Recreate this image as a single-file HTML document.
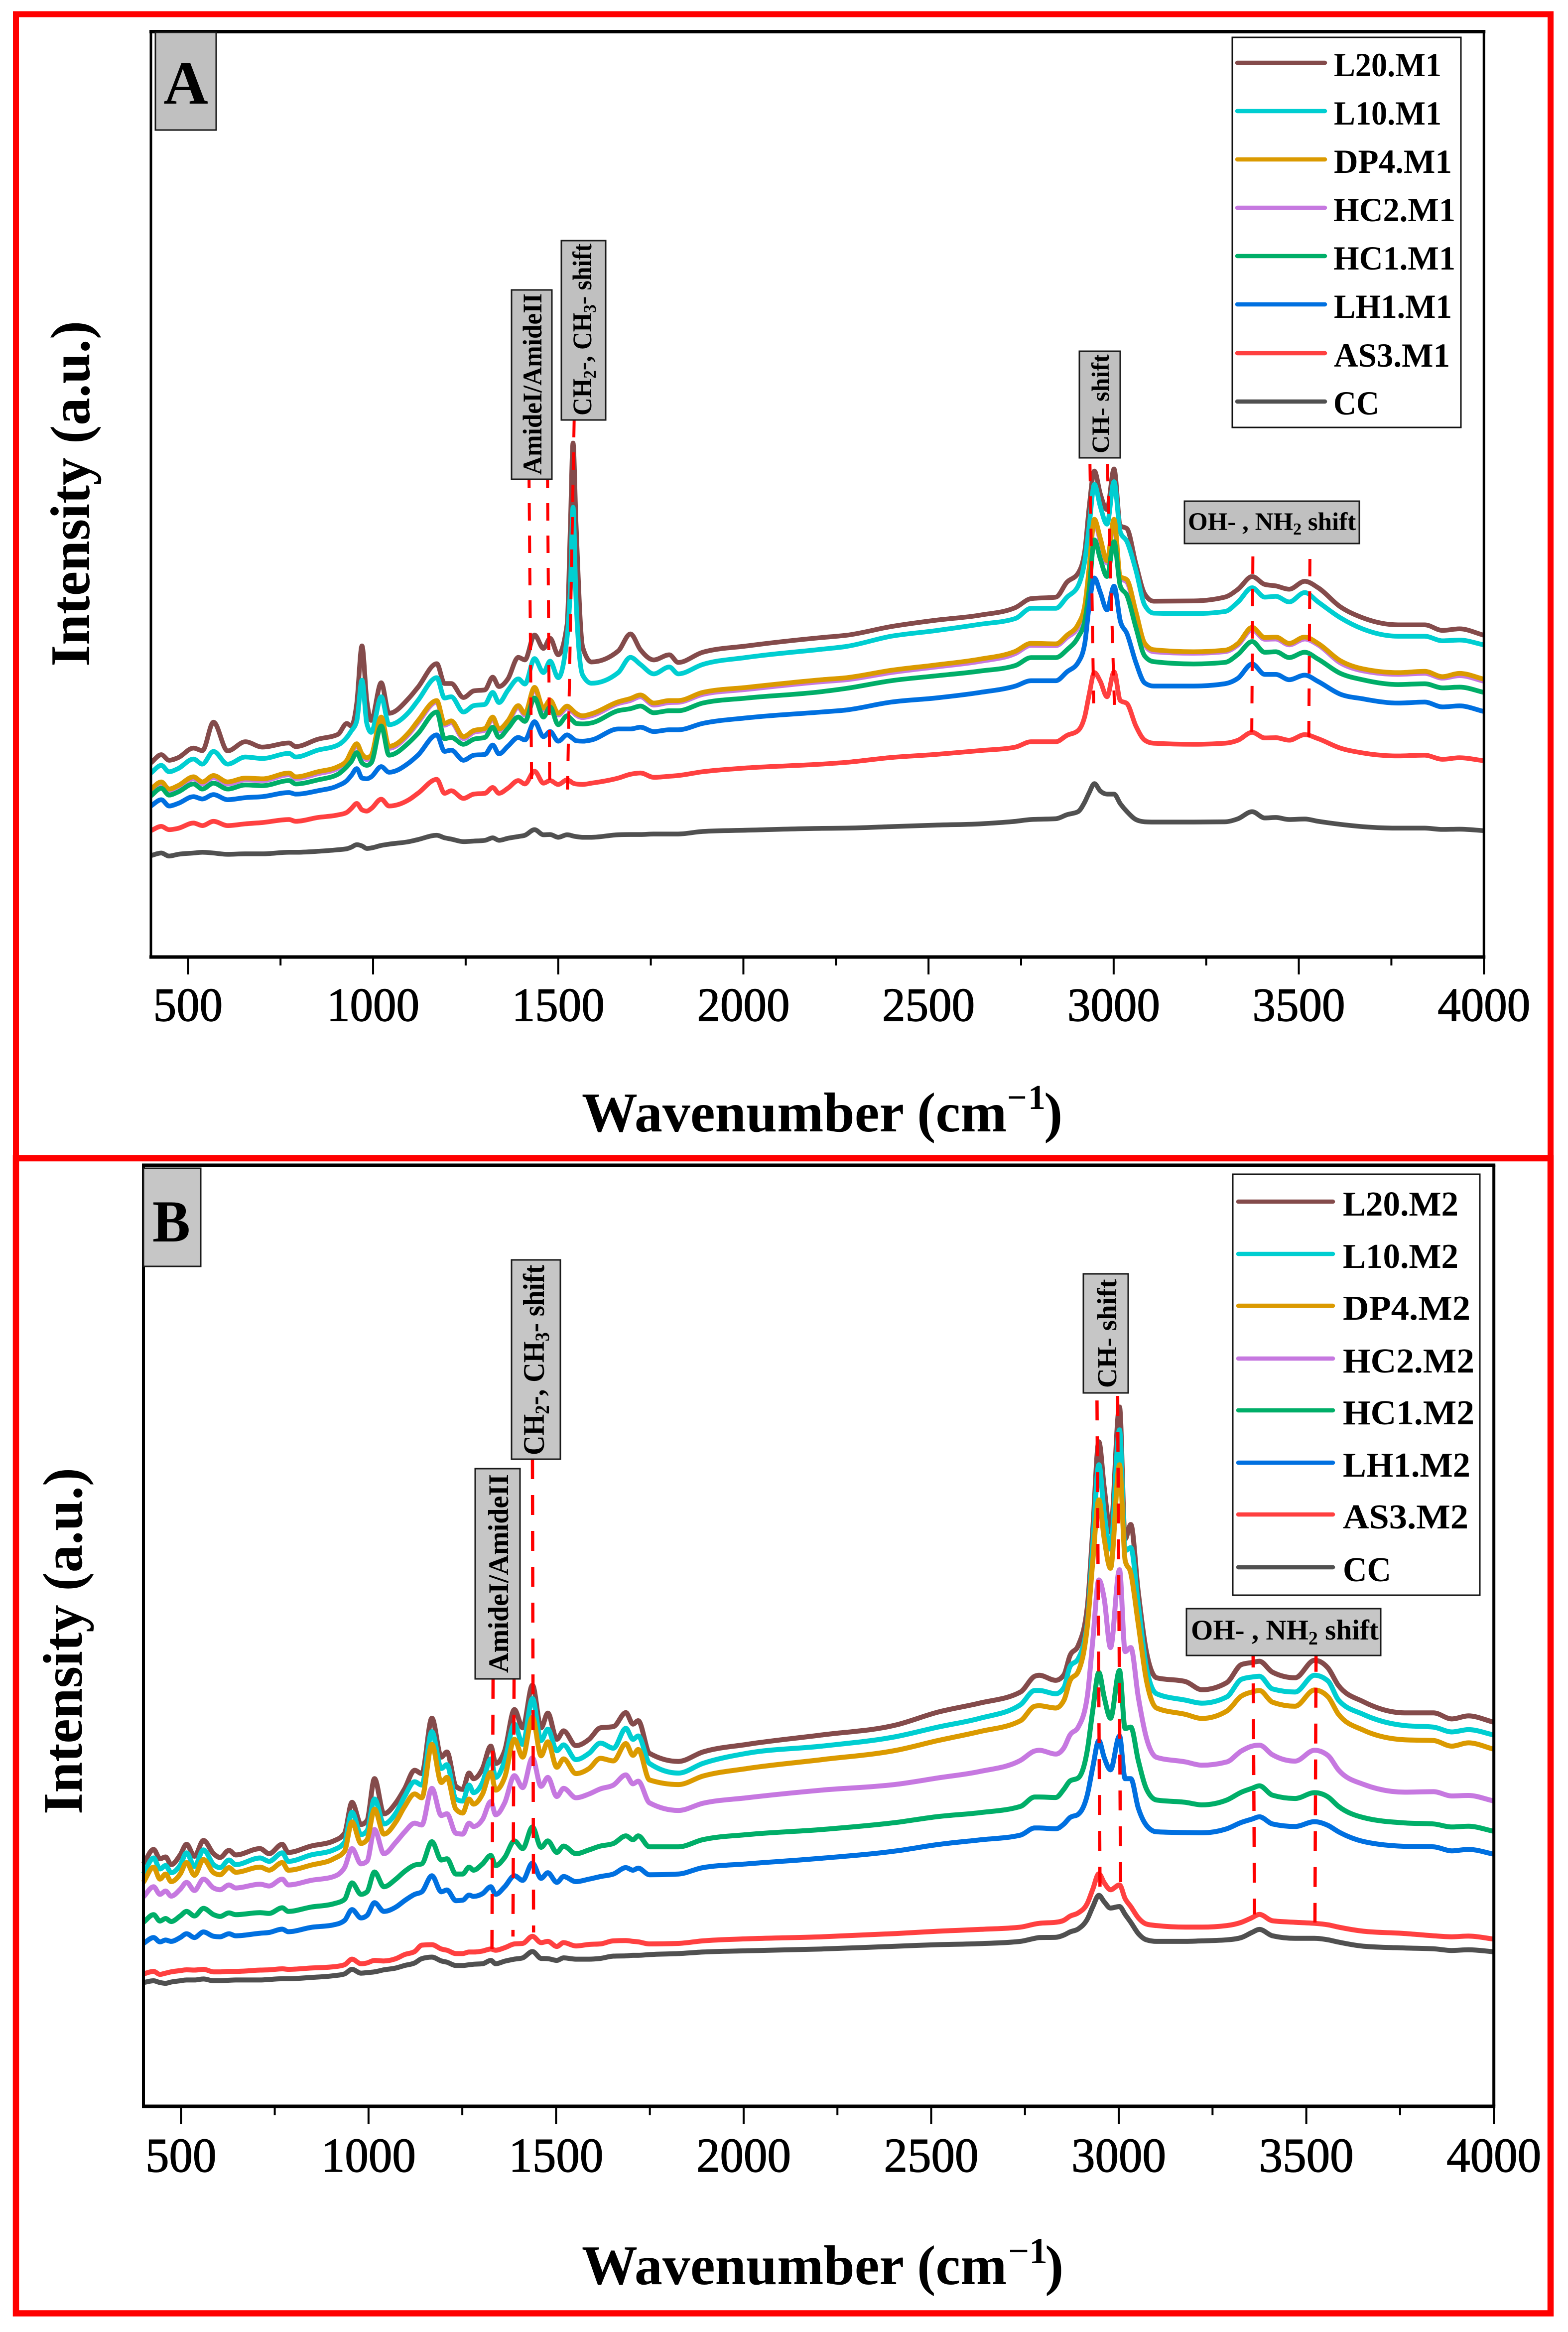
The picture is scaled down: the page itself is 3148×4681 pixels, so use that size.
<!DOCTYPE html>
<html lang="en">
<head>
<meta charset="utf-8">
<title>Raman spectra panels A and B</title>
<style>
html,body{margin:0;padding:0;background:#fff;}
svg{display:block;}
text{font-family:"Liberation Serif",serif;fill:#000;}
.b{font-weight:bold;}
.tick{font-weight:normal;stroke:#000;stroke-width:1.4px;}
.badge{fill:#c0c0c0;stroke:#1a1a1a;stroke-width:3;}
.legend-box{fill:#fff;stroke:#111;stroke-width:3;}
.ll{stroke-width:8.5;stroke-linecap:round;fill:none;}
</style>
</head>
<body>
<svg xmlns="http://www.w3.org/2000/svg" width="3148" height="4681" viewBox="0 0 3148 4681">
  <rect x="0" y="0" width="3148" height="4681" fill="#fff"/>
  <rect x="32" y="28.5" width="3081" height="2296" fill="none" stroke="#ff0000" stroke-width="12"/>
  <rect x="32" y="2325" width="3081" height="2318.5" fill="none" stroke="#ff0000" stroke-width="12.5"/>

  <g id="panelA"></g>
  <g id="panelB"></g>

  <!-- Panel A annotations -->
  <g>
    <rect class="badge" x="312" y="65" width="122" height="196"/>
    <text class="b" x="373" y="208" font-size="124" text-anchor="middle">A</text>

    <rect class="badge" x="1027" y="582" width="81" height="380"/>
    <text class="b" transform="translate(1087,953) rotate(-90)" font-size="54" textLength="364" lengthAdjust="spacingAndGlyphs">AmideI/AmideII</text>

    <rect class="badge" x="1127" y="483" width="89" height="360"/>
    <text class="b" transform="translate(1187,834) rotate(-90) scale(0.917,1)" font-size="54">CH<tspan font-size="36" dy="9">2</tspan><tspan dy="-9">-, CH</tspan><tspan font-size="36" dy="9">3</tspan><tspan dy="-9">- shift</tspan></text>

    <rect class="badge" x="2167" y="705" width="82" height="214"/>
    <text class="b" transform="translate(2226,910) rotate(-90)" font-size="50">CH- shift</text>

    <rect class="badge" x="2378" y="1006" width="351" height="85"/>
    <text class="b" x="2385" y="1064" font-size="51">OH- , NH<tspan font-size="34" dy="9">2</tspan><tspan dy="-9"> shift</tspan></text>

    <text class="b" transform="translate(179,1338) rotate(-90)" font-size="112" textLength="694" lengthAdjust="spacingAndGlyphs">Intensity (a.u.)</text>
    <text class="b" x="1168" y="2271" font-size="112">Wavenumber (cm<tspan x="2022" y="2226" font-size="70">−</tspan><tspan x="2064" y="2226" font-size="70">1</tspan><tspan x="2096" y="2271">)</tspan></text>

    <g>
      <rect class="legend-box" x="2474" y="75" width="459" height="783"/>
      <line class="ll" x1="2484" x2="2660" y1="126" y2="126" stroke="#844b4b"/>
      <text class="b" x="2678" y="153" font-size="68" textLength="216" lengthAdjust="spacingAndGlyphs">L20.M1</text>
      <line class="ll" x1="2484" x2="2660" y1="223" y2="223" stroke="#00ced1"/>
      <text class="b" x="2678" y="250" font-size="68" textLength="216" lengthAdjust="spacingAndGlyphs">L10.M1</text>
      <line class="ll" x1="2484" x2="2660" y1="320" y2="320" stroke="#db9a00"/>
      <text class="b" x="2678" y="347" font-size="68" textLength="237" lengthAdjust="spacingAndGlyphs">DP4.M1</text>
      <line class="ll" x1="2484" x2="2660" y1="417" y2="417" stroke="#c678e0"/>
      <text class="b" x="2677" y="444" font-size="68" textLength="245" lengthAdjust="spacingAndGlyphs">HC2.M1</text>
      <line class="ll" x1="2484" x2="2660" y1="514" y2="514" stroke="#00ae68"/>
      <text class="b" x="2677" y="541" font-size="68" textLength="245" lengthAdjust="spacingAndGlyphs">HC1.M1</text>
      <line class="ll" x1="2484" x2="2660" y1="611" y2="611" stroke="#0070e0"/>
      <text class="b" x="2678" y="638" font-size="68" textLength="237" lengthAdjust="spacingAndGlyphs">LH1.M1</text>
      <line class="ll" x1="2484" x2="2660" y1="709" y2="709" stroke="#ff4040"/>
      <text class="b" x="2678" y="736" font-size="68" textLength="233" lengthAdjust="spacingAndGlyphs">AS3.M1</text>
      <line class="ll" x1="2484" x2="2660" y1="806" y2="806" stroke="#505050"/>
      <text class="b" x="2677" y="832" font-size="68" textLength="92" lengthAdjust="spacingAndGlyphs">CC</text>
    </g>
  </g>

  <!-- Panel B annotations -->
  <g>
    <rect class="badge" style="fill:#c6c6c6" x="288" y="2345" width="115" height="197"/>
    <text class="b" x="344" y="2492" font-size="120" text-anchor="middle" textLength="76" lengthAdjust="spacingAndGlyphs">B</text>

    <rect class="badge" style="fill:#c6c6c6" x="954" y="2948" width="90" height="422"/>
    <text class="b" transform="translate(1020,3358) rotate(-90)" font-size="57" textLength="399" lengthAdjust="spacingAndGlyphs">AmideI/AmideII</text>

    <rect class="badge" style="fill:#c6c6c6" x="1027" y="2529" width="98" height="400"/>
    <text class="b" transform="translate(1092,2921) rotate(-90) scale(0.914,1)" font-size="60">CH<tspan font-size="40" dy="10">2</tspan><tspan dy="-10">-, CH</tspan><tspan font-size="40" dy="10">3</tspan><tspan dy="-10">- shift</tspan></text>

    <rect class="badge" style="fill:#c6c6c6" x="2175" y="2557" width="90" height="239"/>
    <text class="b" transform="translate(2241,2786) rotate(-90)" font-size="55">CH- shift</text>

    <rect class="badge" style="fill:#c6c6c6" x="2382" y="3229" width="390" height="94"/>
    <text class="b" x="2391" y="3291" font-size="57">OH- , NH<tspan font-size="38" dy="10">2</tspan><tspan dy="-10"> shift</tspan></text>

    <text class="b" transform="translate(164,3642) rotate(-90)" font-size="112" textLength="696" lengthAdjust="spacingAndGlyphs">Intensity (a.u.)</text>
    <text class="b" x="1168" y="4585" font-size="112">Wavenumber (cm<tspan x="2024" y="4543" font-size="74">−</tspan><tspan x="2066" y="4543" font-size="74">1</tspan><tspan x="2098" y="4585">)</tspan></text>

    <g>
      <rect class="legend-box" x="2475" y="2357" width="496" height="845"/>
      <line class="ll" x1="2486" x2="2676" y1="2412" y2="2412" stroke="#844b4b"/>
      <text class="b" x="2696" y="2440" font-size="70" textLength="232" lengthAdjust="spacingAndGlyphs">L20.M2</text>
      <line class="ll" x1="2486" x2="2676" y1="2517" y2="2517" stroke="#00ced1"/>
      <text class="b" x="2696" y="2545" font-size="70" textLength="232" lengthAdjust="spacingAndGlyphs">L10.M2</text>
      <line class="ll" x1="2486" x2="2676" y1="2621" y2="2621" stroke="#db9a00"/>
      <text class="b" x="2696" y="2649" font-size="70" textLength="256" lengthAdjust="spacingAndGlyphs">DP4.M2</text>
      <line class="ll" x1="2486" x2="2676" y1="2727" y2="2727" stroke="#c678e0"/>
      <text class="b" x="2696" y="2755" font-size="70" textLength="264" lengthAdjust="spacingAndGlyphs">HC2.M2</text>
      <line class="ll" x1="2486" x2="2676" y1="2831" y2="2831" stroke="#00ae68"/>
      <text class="b" x="2696" y="2859" font-size="70" textLength="264" lengthAdjust="spacingAndGlyphs">HC1.M2</text>
      <line class="ll" x1="2486" x2="2676" y1="2936" y2="2936" stroke="#0070e0"/>
      <text class="b" x="2696" y="2964" font-size="70" textLength="256" lengthAdjust="spacingAndGlyphs">LH1.M2</text>
      <line class="ll" x1="2486" x2="2676" y1="3040" y2="3040" stroke="#ff4040"/>
      <text class="b" x="2696" y="3068" font-size="70" textLength="252" lengthAdjust="spacingAndGlyphs">AS3.M2</text>
      <line class="ll" x1="2486" x2="2676" y1="3146" y2="3146" stroke="#505050"/>
      <text class="b" x="2696" y="3174" font-size="70" textLength="97" lengthAdjust="spacingAndGlyphs">CC</text>
    </g>
  </g>
</svg>

<script>
// ---------- Shared tick values ----------
const majorTicks = [500, 1000, 1500, 2000, 2500, 3000, 3500, 4000];
const minorTicks = [750, 1250, 1750, 2250, 2750, 3250, 3750];

// ---------- Panel A data (wavenumber, intensity in a.u.) ----------
const wavenumbersA = [400,428,449,473,515,539,569,607,655,701,773,791,851,905,929,941,956,970,983,995,1022,1043,1097,1121,1172,1193,1211,1244,1272,1302,1323,1340,1364,1392,1410,1436,1460,1478,1500,1524,1533,1540,1548,1566,1590,1662,1695,1722,1758,1800,1824,1890,2010,2212,
2279,2399,2519,2639,2735,2777,2844,2874,2904,2922,2934,2948,2964,2982,3001,3018,3036,3060,3084,3108,3216,3300,3336,3374,3408,3438,3474,3516,3552,3612,3672,3768,3840,3888,3934,4000];
const l20M1 = [764,796,774,784,822,812,924,811,847,826,842,828,857,876,919,909,999,1224,1009,931,1079,959,1019,1061,1154,1076,1076,1021,1047,1051,1101,1064,1094,1179,1169,1267,1214,1254,1189,1309,1709,2022,1709,1219,1161,1204,1271,1209,1169,1189,1159,1199,1224,1257,
1266,1300,1325,1345,1375,1410,1416,1475,1510,1597,1772,1912,1822,1760,1920,1697,1685,1547,1428,1400,1401,1416,1447,1497,1466,1460,1447,1478,1453,1378,1335,1307,1307,1285,1291,1266];
const l10M1 = [724,754,729,741,779,759,809,759,787,781,801,787,814,834,864,889,929,1089,919,884,1024,914,964,1009,1099,1019,1024,964,989,994,1041,1001,1049,1094,1074,1174,1119,1164,1099,1259,1459,1769,1409,1109,1077,1119,1179,1151,1114,1141,1114,1151,1179,1211,
1222,1262,1284,1309,1332,1372,1372,1416,1460,1559,1697,1859,1772,1703,1870,1672,1634,1522,1384,1353,1351,1359,1397,1453,1416,1419,1397,1434,1397,1335,1291,1262,1262,1244,1247,1228];
const dp4M1 = [661,689,661,674,709,689,714,689,704,701,724,709,729,749,774,809,839,799,784,794,944,829,884,929,1009,919,929,867,891,899,944,897,929,989,959,1061,979,1011,959,987,979,969,959,949,957,1004,1017,1031,999,1009,1009,1041,1061,1091,
1099,1128,1149,1172,1203,1234,1232,1266,1309,1384,1534,1722,1647,1559,1722,1497,1484,1359,1234,1209,1201,1207,1234,1297,1257,1259,1234,1259,1234,1166,1134,1119,1124,1103,1116,1093];
const hc2M1 = [654,681,654,667,701,681,706,681,697,694,717,702,721,742,767,801,831,791,777,787,937,821,877,921,1003,912,922,859,884,892,937,889,921,982,952,1054,972,1004,952,979,972,962,952,942,949,997,1009,1024,991,1001,1002,1033,1053,1083,
1091,1119,1141,1163,1194,1226,1225,1257,1297,1372,1528,1716,1634,1550,1712,1491,1474,1349,1228,1201,1195,1201,1228,1288,1250,1251,1228,1251,1228,1157,1126,1112,1116,1097,1107,1085];
const hc1M1 = [634,664,637,649,681,661,684,661,677,674,694,681,697,719,749,769,804,764,754,764,909,794,844,879,964,859,864,837,857,864,904,864,899,944,927,1019,944,984,914,949,939,929,919,917,921,969,977,987,961,969,969,999,1019,1044,
1057,1087,1106,1125,1147,1178,1178,1209,1259,1322,1447,1641,1566,1497,1634,1459,1422,1297,1184,1162,1153,1159,1191,1241,1199,1201,1178,1199,1172,1116,1091,1072,1075,1059,1062,1041];
const lh1M1 = [594,619,594,604,631,622,639,619,627,631,647,641,654,674,694,714,741,704,701,709,749,727,764,794,874,809,814,774,794,797,834,799,829,864,854,926,867,887,849,874,867,859,851,849,854,897,897,904,887,894,894,919,941,964,
972,1003,1019,1041,1066,1087,1087,1122,1159,1234,1384,1491,1434,1366,1459,1322,1272,1159,1078,1066,1066,1075,1097,1153,1112,1112,1091,1109,1084,1034,1016,999,1003,984,988,966];
const as3M1 = [497,514,501,506,527,517,534,517,524,529,541,534,549,559,569,584,604,579,574,584,621,594,619,644,699,644,654,624,641,644,667,644,664,694,681,731,684,694,679,697,691,684,681,679,684,704,719,724,707,711,714,729,744,759,
766,785,797,812,826,847,847,872,891,947,1034,1119,1084,1024,1122,1009,997,909,853,841,837,841,853,884,862,863,853,875,859,822,803,791,794,778,784,772];
const ccA = [399,409,397,404,409,412,409,404,406,406,412,412,416,422,426,432,442,437,427,429,439,444,454,462,479,469,464,454,456,459,469,459,467,474,479,501,481,482,471,481,479,476,474,471,471,481,482,482,484,484,484,494,499,506,
507,513,519,524,534,541,544,560,572,610,647,682,653,641,641,603,572,541,532,531,531,532,544,572,547,549,541,543,534,522,513,507,507,502,503,497];

// ---------- Panel B data ----------
const wavenumbersB = [400,427,444,459,474,498,515,536,560,587,604,628,646,711,735,770,786,847,907,936,956,980,996,1016,1041,1073,1096,1123,1142,1169,1194,1209,1233,1251,1268,1280,1304,1326,1339,1363,1389,1411,1437,1460,1478,1502,1520,1553,1588,1618,1653,1686,1705,1719,1749,1826,1891,2009,2208,
2408,2518,2628,2738,2776,2788,2832,2854,2870,2892,2916,2931,2947,2961,2978,3002,3017,3032,3052,3074,3101,3178,3222,3288,3327,3355,3375,3410,3470,3522,3558,3586,3652,3762,3839,3888,3932,4000];
const l20M2 = [954,1011,974,981,951,989,1031,984,1046,994,979,1007,989,1014,994,1031,999,1024,1044,1074,1196,1109,1124,1289,1151,1194,1249,1322,1309,1527,1374,1394,1259,1247,1311,1289,1329,1417,1349,1399,1561,1489,1657,1489,1547,1444,1477,1419,1444,1489,1494,1549,1504,1517,1389,1357,1394,1424,1461,
1501,1551,1586,1630,1692,1696,1676,1698,1773,1813,1961,2274,2614,2436,2260,2751,2232,2289,2023,1786,1686,1671,1639,1667,1738,1746,1751,1708,1686,1755,1724,1655,1592,1548,1548,1524,1536,1511];
const l10M2 = [914,977,934,947,919,949,997,944,1009,951,939,969,951,977,964,997,964,989,1009,1039,1157,1069,1084,1209,1111,1154,1219,1277,1264,1474,1329,1344,1209,1201,1264,1234,1274,1367,1294,1359,1504,1424,1604,1439,1484,1399,1422,1364,1389,1429,1409,1487,1444,1457,1349,1311,1349,1389,1417,
1455,1492,1526,1580,1636,1636,1623,1648,1730,1761,1898,2211,2524,2336,2192,2661,2186,2198,1974,1724,1623,1598,1586,1611,1680,1689,1692,1642,1630,1696,1673,1598,1542,1498,1492,1473,1482,1461];
const dp4M2 = [881,941,894,914,884,914,959,909,971,919,911,939,921,941,929,959,929,949,974,1004,1119,1034,1049,1169,1071,1119,1179,1229,1214,1424,1274,1294,1169,1154,1209,1189,1229,1314,1244,1294,1444,1374,1531,1379,1434,1334,1367,1309,1329,1369,1359,1427,1381,1404,1284,1266,1299,1329,1364,
1401,1439,1474,1517,1574,1576,1567,1598,1674,1711,1886,2148,2386,2236,2117,2524,2148,2098,1898,1674,1567,1542,1526,1555,1614,1630,1636,1590,1574,1638,1611,1542,1480,1442,1439,1417,1430,1405];
const hc2M2 = [824,864,834,847,827,854,881,849,894,859,852,871,859,874,867,894,871,889,904,939,1014,954,964,1089,994,1039,1079,1114,1107,1251,1144,1151,1074,1071,1114,1101,1129,1199,1147,1194,1301,1254,1371,1259,1294,1219,1251,1214,1229,1249,1264,1304,1269,1279,1194,1164,1192,1214,1244,
1267,1292,1317,1361,1398,1401,1386,1411,1461,1492,1611,1836,2071,1999,1805,2111,1789,1805,1611,1448,1373,1355,1342,1355,1398,1417,1421,1383,1358,1401,1380,1323,1267,1236,1238,1221,1223,1201];
const hc1M2 = [724,754,729,739,727,749,767,749,779,754,747,761,754,762,759,781,767,784,797,814,879,834,844,922,864,894,924,949,954,1041,969,974,914,914,941,929,954,987,947,979,1044,1014,1099,1019,1044,999,1024,994,1009,1024,1034,1064,1049,1064,1021,1021,1049,1069,1089,
1117,1140,1155,1180,1217,1217,1215,1248,1280,1292,1399,1561,1707,1611,1527,1715,1486,1492,1361,1248,1205,1196,1186,1205,1236,1251,1261,1224,1211,1234,1217,1180,1136,1115,1111,1099,1102,1082];
const lh1M2 = [641,664,647,654,649,664,679,664,686,669,667,679,671,681,684,697,687,704,714,731,774,741,751,801,767,784,809,834,844,907,844,851,809,811,831,826,837,864,834,864,907,889,957,897,919,881,904,884,894,904,914,939,929,937,911,914,939,954,976,
1005,1030,1048,1067,1095,1095,1092,1111,1136,1149,1224,1336,1439,1373,1324,1457,1289,1289,1174,1105,1080,1077,1076,1092,1117,1130,1139,1111,1101,1120,1105,1080,1042,1023,1021,1005,1011,992];
const as3M2 = [521,531,519,524,529,534,537,536,539,529,529,531,531,536,537,541,539,544,549,557,579,561,564,574,572,581,597,609,634,636,619,614,601,601,607,607,611,619,614,624,639,641,669,644,649,629,644,631,637,639,651,652,649,647,639,641,651,659,667,
680,689,696,705,717,720,724,732,748,761,798,855,915,880,852,871,817,786,742,717,711,705,705,711,724,742,755,730,724,720,714,705,689,680,671,667,670,658];
const ccB = [487,494,487,484,489,494,497,497,501,494,494,496,497,497,499,502,502,507,514,521,539,524,526,529,537,544,554,564,581,587,572,567,554,554,557,559,561,574,561,571,579,584,609,582,581,574,584,579,579,582,591,592,594,594,597,601,607,612,619,
630,636,640,649,661,664,665,674,686,698,736,786,830,805,780,786,755,724,680,655,649,649,651,655,664,684,696,671,661,661,655,646,630,623,620,613,616,608];

// ---------- Annotation guides (wavenumber at top/bottom, intensity at top/bottom) ----------
const guidesATopW = [1421,1471,1543,2936,2983,3376,3530];
const guidesABottomW = [1428,1477,1525,2946,3002,3373,3527];
const guidesATopI = [1913,1913,2113,1940,1940,1576,1566];
const guidesABottomI = [700,674,659,998,992,884,866];
const guidesBTopW = [1332,1388,1437,2942,2997,3358,3526];
const guidesBBottomW = [1329,1385,1440,2950,3005,3362,3523];
const guidesBTopI = [1682,1682,2546,2777,2795,1805,1788];
const guidesBBottomI = [619,668,684,860,880,755,723];

// ---------- Series order and colours ----------
const seriesKeys = ['l20','l10','hc2','dp4','hc1','lh1','as3','cc'];
const seriesColors = {l20:'#844b4b',l10:'#00ced1',dp4:'#db9a00',hc2:'#c678e0',hc1:'#00ae68',lh1:'#0070e0',as3:'#ff4040',cc:'#505050'};
const valuesA = {l20:l20M1,l10:l10M1,dp4:dp4M1,hc2:hc2M1,hc1:hc1M1,lh1:lh1M1,as3:as3M1,cc:ccA};
const valuesB = {l20:l20M2,l10:l10M2,dp4:dp4M2,hc2:hc2M2,hc1:hc1M2,lh1:lh1M2,as3:as3M2,cc:ccB};

const SVGNS = 'http://www.w3.org/2000/svg';

function monotonePath(px, py) {
  const n = px.length;
  const s = [], t = new Array(n);
  for (let i = 0; i < n - 1; i++) s.push((py[i + 1] - py[i]) / (px[i + 1] - px[i]));
  for (let i = 1; i < n - 1; i++) {
    const h0 = px[i] - px[i - 1], h1 = px[i + 1] - px[i];
    const p = (s[i - 1] * h1 + s[i] * h0) / (h0 + h1);
    t[i] = (Math.sign(s[i - 1]) + Math.sign(s[i])) * Math.min(Math.abs(s[i - 1]), Math.abs(s[i]), 0.5 * Math.abs(p));
  }
  t[0] = s[0];
  t[n - 1] = s[n - 2];
  let d = 'M' + px[0].toFixed(1) + ' ' + py[0].toFixed(1);
  for (let i = 0; i < n - 1; i++) {
    const h = (px[i + 1] - px[i]) / 3;
    d += 'C' + (px[i] + h).toFixed(1) + ' ' + (py[i] + h * t[i]).toFixed(1) + ' ' +
         (px[i + 1] - h).toFixed(1) + ' ' + (py[i + 1] - h * t[i + 1]).toFixed(1) + ' ' +
         px[i + 1].toFixed(1) + ' ' + py[i + 1].toFixed(1);
  }
  return d;
}

function drawPanel(cfg) {
  const root = document.getElementById(cfg.id);
  const xScale = w => cfg.x400 + (w - 400) * cfg.pxPerW;
  const yScale = v => cfg.yBase - v / 1.96;

  // series
  seriesKeys.forEach(key => {
    const vals = cfg.values[key];
    const px = cfg.wavenumbers.map(xScale);
    const py = vals.map(yScale);
    const path = document.createElementNS(SVGNS, 'path');
    path.setAttribute('d', monotonePath(px, py));
    path.setAttribute('fill', 'none');
    path.setAttribute('stroke', seriesColors[key]);
    path.setAttribute('stroke-width', cfg.lineWidth);
    path.setAttribute('stroke-linejoin', 'round');
    
    
    root.appendChild(path);
  });

  // dashed guide lines
  cfg.guideTopW.forEach((w, i) => {
    const ln = document.createElementNS(SVGNS, 'line');
    ln.setAttribute('x1', xScale(w));
    ln.setAttribute('y1', yScale(cfg.guideTopI[i]));
    ln.setAttribute('x2', xScale(cfg.guideBottomW[i]));
    ln.setAttribute('y2', yScale(cfg.guideBottomI[i]));
    ln.setAttribute('stroke', '#ff0000');
    ln.setAttribute('stroke-width', cfg.dashWidth);
    ln.setAttribute('stroke-dasharray', cfg.dash);
    
    
    root.appendChild(ln);
  });

  // frame: horizontal axes heavier than vertical ones
  const L = xScale(400), R = xScale(4000), T = cfg.yTop, B = cfg.yBase;
  const hSides = document.createElementNS(SVGNS, 'path');
  hSides.setAttribute('d', 'M' + (L - 3) + ' ' + T + 'H' + (R + 3) + 'M' + (L - 3) + ' ' + B + 'H' + (R + 3));
  hSides.setAttribute('fill', 'none');
  hSides.setAttribute('stroke', '#000');
  hSides.setAttribute('stroke-width', cfg.hFrameWidth);
  
  
  root.appendChild(hSides);

  const vSides = document.createElementNS(SVGNS, 'path');
  vSides.setAttribute('d', 'M' + L + ' ' + T + 'V' + B + 'M' + R + ' ' + T + 'V' + B);
  vSides.setAttribute('fill', 'none');
  vSides.setAttribute('stroke', '#000');
  vSides.setAttribute('stroke-width', cfg.vFrameWidth);
  
  
  root.appendChild(vSides);

  // ticks
  majorTicks.forEach(v => {
    const t = document.createElementNS(SVGNS, 'line');
    t.setAttribute('x1', xScale(v));
    t.setAttribute('x2', xScale(v));
    t.setAttribute('y1', B);
    t.setAttribute('y2', cfg.majorEnd);
    t.setAttribute('stroke', '#000');
    t.setAttribute('stroke-width', 4);
    
    
    root.appendChild(t);

    const lab = document.createElementNS(SVGNS, 'text');
    lab.setAttribute('x', xScale(v));
    lab.setAttribute('y', cfg.labelBase);
    lab.setAttribute('text-anchor', 'middle');
    lab.setAttribute('font-size', cfg.labelSize);
    lab.setAttribute('class', 'tick');
    lab.setAttribute('textLength', String(v).length * cfg.digitWidth);
    lab.setAttribute('lengthAdjust', 'spacingAndGlyphs');
    
    
    lab.textContent = String(v);
    root.appendChild(lab);
  });
  minorTicks.forEach(v => {
    const t = document.createElementNS(SVGNS, 'line');
    t.setAttribute('x1', xScale(v));
    t.setAttribute('x2', xScale(v));
    t.setAttribute('y1', B);
    t.setAttribute('y2', cfg.minorEnd);
    t.setAttribute('stroke', '#000');
    t.setAttribute('stroke-width', 4);
    
    
    root.appendChild(t);
  });
}

drawPanel({
  id: 'panelA', tag: 'a', wavenumbers: wavenumbersA, values: valuesA,
  x400: 303, pxPerW: 0.7434, yBase: 1921, yTop: 63.5,
  lineWidth: 9.5, dashWidth: 6, dash: '35 30', hFrameWidth: 7, vFrameWidth: 5,
  majorEnd: 1956, minorEnd: 1938, labelBase: 2049, labelSize: 95, digitWidth: 46.5,
  guideTopW: guidesATopW, guideBottomW: guidesABottomW, guideTopI: guidesATopI, guideBottomI: guidesABottomI
});
drawPanel({
  id: 'panelB', tag: 'b', wavenumbers: wavenumbersB, values: valuesB,
  x400: 288, pxPerW: 0.7531, yBase: 4228, yTop: 2339,
  lineWidth: 10, dashWidth: 6.5, dash: '40 32', hFrameWidth: 7, vFrameWidth: 6,
  majorEnd: 4264, minorEnd: 4246, labelBase: 4359, labelSize: 97, digitWidth: 47.5,
  guideTopW: guidesBTopW, guideBottomW: guidesBBottomW, guideTopI: guidesBTopI, guideBottomI: guidesBBottomI
});
</script>
</body>
</html>
